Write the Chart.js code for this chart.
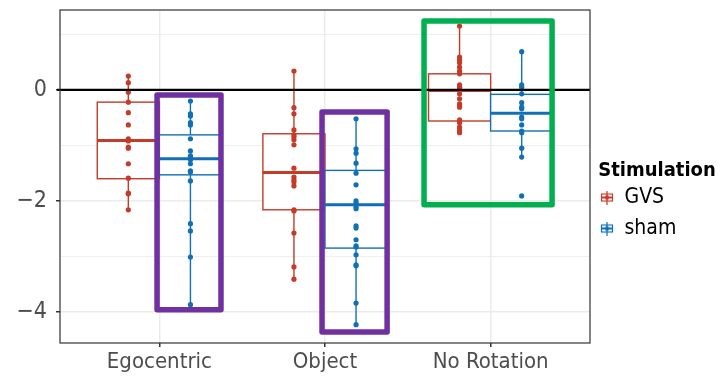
<!DOCTYPE html>
<html>
<head>
<meta charset="utf-8">
<script src="https://cdn.jsdelivr.net/npm/chart.js@4.4.1/dist/chart.umd.min.js"></script>
<style>
  html, body { margin: 0; padding: 0; background: #fff; }
  #wrap { width: 724px; height: 376px; }
</style>
</head>
<body>
<div id="wrap"><canvas id="chart" width="724" height="376"></canvas></div>
<script>
(function () {
    'use strict';

    var categories = ['Egocentric', 'Object', 'No Rotation'];
    var groups = ['GVS', 'sham'];
    var groupColors = ['#c43b28', '#1170b5'];
    var yTicks = [-4, -3, -2, -1, 0, 1];

    // individual scores, one list per category
    var gvsPoints = [
        [0.25, 0.13, -0.04, -0.22, -0.41, -0.63, -0.88, -0.92, -1.03, -1.05, -1.33, -1.59, -1.86, -1.87, -2.16],
        [0.34, -0.32, -0.43, -0.72, -0.81, -0.85, -0.9, -0.99, -1.41, -1.57, -1.62, -1.66, -1.73, -2.16, -2.18, -2.58, -3.19, -3.41],
        [1.15, 0.59, 0.54, 0.49, 0.41, 0.34, 0.29, 0.09, 0.05, 0.04, -0.07, -0.16, -0.25, -0.29, -0.31, -0.54, -0.59, -0.67, -0.72, -0.77]
    ];
    var shamPoints = [
        [-0.2, -0.43, -0.47, -0.59, -0.63, -0.88, -1.1, -1.19, -1.21, -1.24, -1.26, -1.33, -1.46, -1.48, -1.64, -2.41, -2.54, -3.01, -3.87],
        [-0.52, -1.06, -1.14, -1.32, -1.5, -1.71, -2.0, -2.04, -2.11, -2.14, -2.45, -2.49, -2.7, -2.81, -2.83, -2.97, -3.15, -3.17, -3.84, -4.23],
        [0.69, 0.09, 0.05, -0.07, -0.23, -0.31, -0.34, -0.49, -0.52, -0.63, -0.74, -0.77, -1.05, -1.21, -1.91]
    ];

    // box stats per category: upper whisker, upper hinge, median, lower hinge, lower whisker
    var gvsHigh = [0.25, 0.34, 1.15];
    var gvsQ3 = [-0.22, -0.79, 0.29];
    var gvsMedian = [-0.91, -1.49, -0.01];
    var gvsQ1 = [-1.60, -2.16, -0.56];
    var gvsLow = [-2.16, -3.41, -0.77];

    var shamHigh = [-0.2, -0.52, 0.69];
    var shamQ3 = [-0.81, -1.45, -0.08];
    var shamMedian = [-1.24, -2.07, -0.42];
    var shamQ1 = [-1.53, -2.85, -0.74];
    var shamLow = [-3.87, -4.23, -1.21];

    // highlight frames drawn over the plot (data units)
    var frameX0 = [0.986, 1.982, 2.598];
    var frameX1 = [1.372, 2.375, 3.371];
    var frameY0 = [-0.09, -0.40, 1.24];
    var frameY1 = [-3.96, -4.36, -2.07];
    var frameColors = ['#7030a0', '#7030a0', '#00b050'];

    var dodge = 0.1875;
    var boxWidth = 0.375;
    var LEGEND_W = 134;
    var FONT = '"DejaVu Sans Condensed", "Liberation Sans Narrow", "Roboto", sans-serif';

    var boxes = [
        { color: groupColors[0], off: -dodge, hi: gvsHigh, q3: gvsQ3, med: gvsMedian, q1: gvsQ1, lo: gvsLow },
        { color: groupColors[1], off: dodge, hi: shamHigh, q3: shamQ3, med: shamMedian, q1: shamQ1, lo: shamLow }
    ];

    function toXY(lists, off) {
        var out = [];
        lists.forEach(function (vals, i) {
            vals.forEach(function (v) { out.push({ x: i + 1 + off, y: v }); });
        });
        return out;
    }

    function keyIcon(color) {
        var c = document.createElement('canvas');
        c.width = 14; c.height = 14;
        var g = c.getContext('2d');
        g.strokeStyle = color;
        g.fillStyle = '#fff';
        g.fillRect(1.5, 3.5, 11, 7);
        g.lineWidth = 1.2;
        g.strokeRect(1.5, 3.5, 11, 7);
        g.beginPath(); g.moveTo(7, 0); g.lineTo(7, 14); g.stroke();
        g.lineWidth = 2;
        g.beginPath(); g.moveTo(1.5, 7); g.lineTo(12.5, 7); g.stroke();
        g.fillStyle = color;
        g.beginPath(); g.arc(7, 7, 2.2, 0, Math.PI * 2); g.fill();
        return c;
    }
    var keys = groupColors.map(keyIcon);

    var boxPlugin = {
        id: 'boxes',
        afterInit: function (chart) {
            // keep the legend wide enough for its title (legend is clipped to its box)
            var lg = chart.legend;
            if (!lg) return;
            var fit = lg.fit;
            lg.fit = function () {
                fit.call(this);
                if (!this.isHorizontal()) this.width = Math.max(this.width, LEGEND_W);
            };
        },
        beforeDatasetsDraw: function (chart) {
            var ctx = chart.ctx, xs = chart.scales.x, ys = chart.scales.y;
            ctx.save();
            boxes.forEach(function (b) {
                for (var i = 0; i < categories.length; i++) {
                    var cx = xs.getPixelForValue(i + 1 + b.off);
                    var l = xs.getPixelForValue(i + 1 + b.off - boxWidth / 2);
                    var r = xs.getPixelForValue(i + 1 + b.off + boxWidth / 2);
                    var top = ys.getPixelForValue(b.q3[i]);
                    var bot = ys.getPixelForValue(b.q1[i]);
                    ctx.strokeStyle = b.color;
                    ctx.lineWidth = 1.4;
                    ctx.beginPath();
                    ctx.moveTo(cx, ys.getPixelForValue(b.hi[i])); ctx.lineTo(cx, top);
                    ctx.moveTo(cx, bot); ctx.lineTo(cx, ys.getPixelForValue(b.lo[i]));
                    ctx.stroke();
                    ctx.fillStyle = '#fff';
                    ctx.fillRect(l, top, r - l, bot - top);
                    ctx.strokeRect(l, top, r - l, bot - top);
                    ctx.lineWidth = 3;
                    var m = ys.getPixelForValue(b.med[i]);
                    ctx.beginPath(); ctx.moveTo(l, m); ctx.lineTo(r, m); ctx.stroke();
                }
            });
            ctx.restore();
        },
        afterDatasetsDraw: function (chart) {
            var ctx = chart.ctx, xs = chart.scales.x, ys = chart.scales.y, a = chart.chartArea;
            ctx.save();
            // reference line at zero
            var y0 = ys.getPixelForValue(0);
            ctx.strokeStyle = '#000';
            ctx.lineWidth = 2.2;
            ctx.beginPath(); ctx.moveTo(a.left - 3, y0); ctx.lineTo(a.right, y0); ctx.stroke();
            // panel border
            ctx.strokeStyle = '#333';
            ctx.lineWidth = 1.2;
            ctx.strokeRect(a.left, a.top, a.right - a.left, a.bottom - a.top);
            // highlight frames
            ctx.lineWidth = 5.5;
            ctx.lineJoin = 'round';
            for (var i = 0; i < frameX0.length; i++) {
                var l = xs.getPixelForValue(frameX0[i]), r = xs.getPixelForValue(frameX1[i]);
                var t = ys.getPixelForValue(frameY0[i]), b = ys.getPixelForValue(frameY1[i]);
                ctx.strokeStyle = frameColors[i];
                ctx.strokeRect(l, t, r - l, b - t);
            }
            ctx.restore();
        }
    };

    var canvas = document.getElementById('chart');
    new Chart(canvas.getContext('2d'), {
        type: 'scatter',
        data: {
            datasets: [
                {
                    label: groups[0],
                    data: toXY(gvsPoints, -dodge),
                    backgroundColor: groupColors[0],
                    borderWidth: 0,
                    pointRadius: 2.6,
                },
                {
                    label: groups[1],
                    data: toXY(shamPoints, dodge),
                    backgroundColor: groupColors[1],
                    borderWidth: 0,
                    pointRadius: 2.6,
                },
            ],
        },
        options: {
            responsive: false,
            animation: false,
            layout: { padding: { top: 10, right: 0, left: 0, bottom: 0 } },
            plugins: {
                tooltip: { enabled: false },
                legend: {
                    position: 'right',
                    title: {
                        display: true,
                        text: 'Stimulation',
                        position: 'center',
                        color: '#000',
                        font: { family: FONT, size: 20, weight: '900', lineHeight: 1 },
                        padding: { top: 24, bottom: -4 },
                    },
                    labels: {
                        color: '#000',
                        font: { family: FONT, size: 21 },
                        usePointStyle: true,
                        pointStyleWidth: 14,
                        padding: 10,
                        generateLabels: function () {
                            return groups.map(function (g, i) {
                                return { text: g, pointStyle: keys[i], fillStyle: groupColors[i], strokeStyle: groupColors[i], lineWidth: 0, datasetIndex: i };
                            });
                        },
                    },
                },
            },
            scales: {
                x: {
                    type: 'linear',
                    min: 0.4,
                    max: 3.6,
                    afterBuildTicks: function (s) {
                        s.ticks = categories.map(function (c, i) { return { value: i + 1 }; });
                    },
                    afterFit: function (s) { s.height = 33; s.paddingLeft = 0; s.paddingRight = 0; },
                    ticks: {
                        color: '#4d4d4d',
                        font: { family: FONT, size: 22 },
                        padding: 2,
                        maxRotation: 0,
                        autoSkip: false,
                        callback: function (v) { return categories[v - 1]; },
                    },
                    grid: { color: '#ebebeb', lineWidth: 1.5, tickLength: 4, tickColor: '#333' },
                    border: { display: false },
                },
                y: {
                    min: -4.56,
                    max: 1.44,
                    afterBuildTicks: function (s) {
                        s.ticks = yTicks.map(function (v) { return { value: v }; });
                    },
                    afterFit: function (s) { s.width = 60; s.paddingTop = 0; s.paddingBottom = 0; },
                    ticks: {
                        color: '#4d4d4d',
                        font: { family: FONT, size: 23 },
                        padding: 9,
                        autoSkip: false,
                        callback: function (v) {
                            if (v % 2 !== 0) return '';
                            return v < 0 ? '\u2212' + Math.abs(v) : String(v);
                        },
                    },
                    grid: {
                        color: '#ebebeb',
                        lineWidth: function (c) { return c.tick && c.tick.value % 2 === 0 ? 1.5 : 0.8; },
                        tickLength: 4,
                        tickColor: function (c) { return c.tick && c.tick.value % 2 === 0 ? '#333' : 'rgba(0,0,0,0)'; },
                    },
                    border: { display: false },
                },
            },
        },
        plugins: [boxPlugin],
    });
})();
</script>
</body>
</html>
